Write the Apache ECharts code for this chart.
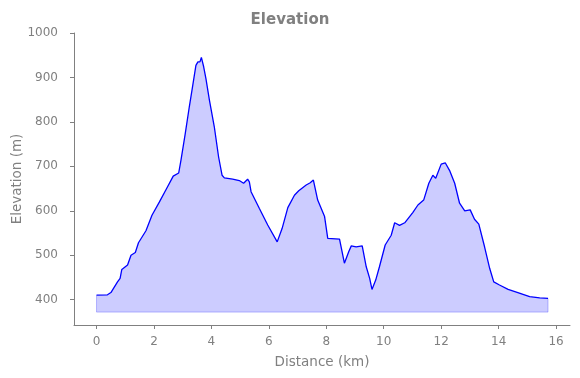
<!DOCTYPE html>
<html>
<head>
<meta charset="utf-8">
<script src="https://cdn.jsdelivr.net/npm/echarts@6/dist/echarts.min.js"></script>
<style>
  html, body { margin: 0; padding: 0; background: #fff; }
  #chart { width: 580px; height: 378px; }
</style>
</head>
<body>
<div id="chart"></div>
<script>
// distance (km) and elevation (m)
var distance = [0, 0.38, 0.50, 0.73, 0.82, 0.88, 1.08, 1.20, 1.35, 1.46, 1.72, 1.93, 2.19, 2.44, 2.67, 2.86, 2.94,
    3.09, 3.23, 3.35, 3.46, 3.53, 3.60, 3.65, 3.73, 3.81, 3.93, 4.10, 4.25, 4.37, 4.45, 4.74, 4.97, 5.12, 5.26,
    5.32, 5.38, 5.67, 5.96, 6.29, 6.46, 6.66, 6.89, 7.04, 7.30, 7.44, 7.55, 7.70, 7.94, 8.05, 8.46, 8.63, 8.78,
    8.87, 9.04, 9.25, 9.39, 9.51, 9.59, 9.72, 9.85, 10.05, 10.26, 10.38, 10.55, 10.73, 11.01, 11.19, 11.39,
    11.57, 11.71, 11.81, 12.00, 12.14, 12.29, 12.47, 12.64, 12.82, 13.01, 13.16, 13.31, 13.51, 13.69, 13.83,
    14.03, 14.33, 14.67, 15.08, 15.43, 15.72];
var elevation = [410, 411, 416, 440, 448, 468, 478, 500, 506, 528, 555, 590, 620, 650, 678, 685, 714,
    774, 834, 882, 927, 935, 935, 945, 924, 897, 849, 789, 721, 680, 674, 671, 668, 662, 671,
    665, 643, 605, 568, 530, 560, 607, 635, 645, 658, 663, 669, 624, 587, 538, 536, 482, 508,
    521, 519, 521, 474, 448, 423, 444, 474, 523, 545, 573, 567, 573, 596, 613, 624,
    662, 680, 673, 705, 708, 691, 662, 617, 600, 602, 581, 570, 519, 470, 440,
    433, 423, 416, 407, 404, 403];
var fillBase = 372;
var xTicks = [0, 2, 4, 6, 8, 10, 12, 14, 16];
var yTicks = [400, 500, 600, 700, 800, 900, 1000];

var profile = distance.map(function (d, i) { return [d, elevation[i]]; });
var n = distance.length - 1;
var fillEdge = [[distance[0], elevation[0]], [distance[0], fillBase],
    [distance[n], fillBase], [distance[n], elevation[n]]];

var gray = '#808080';
var font = 'DejaVu Sans';

var chart = echarts.init(document.getElementById('chart'));
chart.setOption({
    animation: false,
    title: {
        text: 'Elevation',
        left: 'center',
        top: 8,
        textStyle: { color: gray, fontFamily: font, fontSize: 15, fontWeight: 'bold' }
    },
    grid: { left: 74, right: 10, top: 33, bottom: 53, containLabel: false, outerBoundsMode: 'none' },
    xAxis: {
        type: 'value',
        min: -0.785,
        max: 16.485,
        name: 'Distance (km)',
        nameLocation: 'middle',
        nameGap: 30,
        nameTextStyle: { color: gray, fontFamily: font, fontSize: 13.5 },
        axisLine: { show: true, onZero: false, lineStyle: { color: gray, width: 1 } },
        axisTick: { show: true, length: 4, lineStyle: { color: gray }, customValues: xTicks },
        axisLabel: { color: gray, fontFamily: font, fontSize: 12, margin: 11, customValues: xTicks,
            formatter: function (v) { return String(v); } },
        splitLine: { show: false }
    },
    yAxis: {
        type: 'value',
        min: 343,
        max: 1000,
        name: 'Elevation (m)',
        nameLocation: 'middle',
        nameGap: 50,
        nameMoveOverlap: false,
        nameTextStyle: { color: gray, fontFamily: font, fontSize: 13.5 },
        axisLine: { show: true, onZero: false, lineStyle: { color: gray, width: 1 } },
        axisTick: { show: true, length: 4, lineStyle: { color: gray }, customValues: yTicks },
        axisLabel: { color: gray, fontFamily: font, fontSize: 12, margin: 16, customValues: yTicks,
            formatter: function (v) { return String(v); } },
        splitLine: { show: false }
    },
    series: [
        {
            type: 'line',
            data: fillEdge,
            symbol: 'none',
            silent: true,
            lineStyle: { color: 'rgba(0,0,255,0.25)', width: 1 }
        },
        {
            type: 'line',
            data: profile,
            symbol: 'none',
            lineStyle: { color: '#0000ff', width: 1.3 },
            areaStyle: { color: 'rgba(0,0,255,0.2)', opacity: 1, origin: fillBase }
        }
    ]
});
</script>
</body>
</html>
